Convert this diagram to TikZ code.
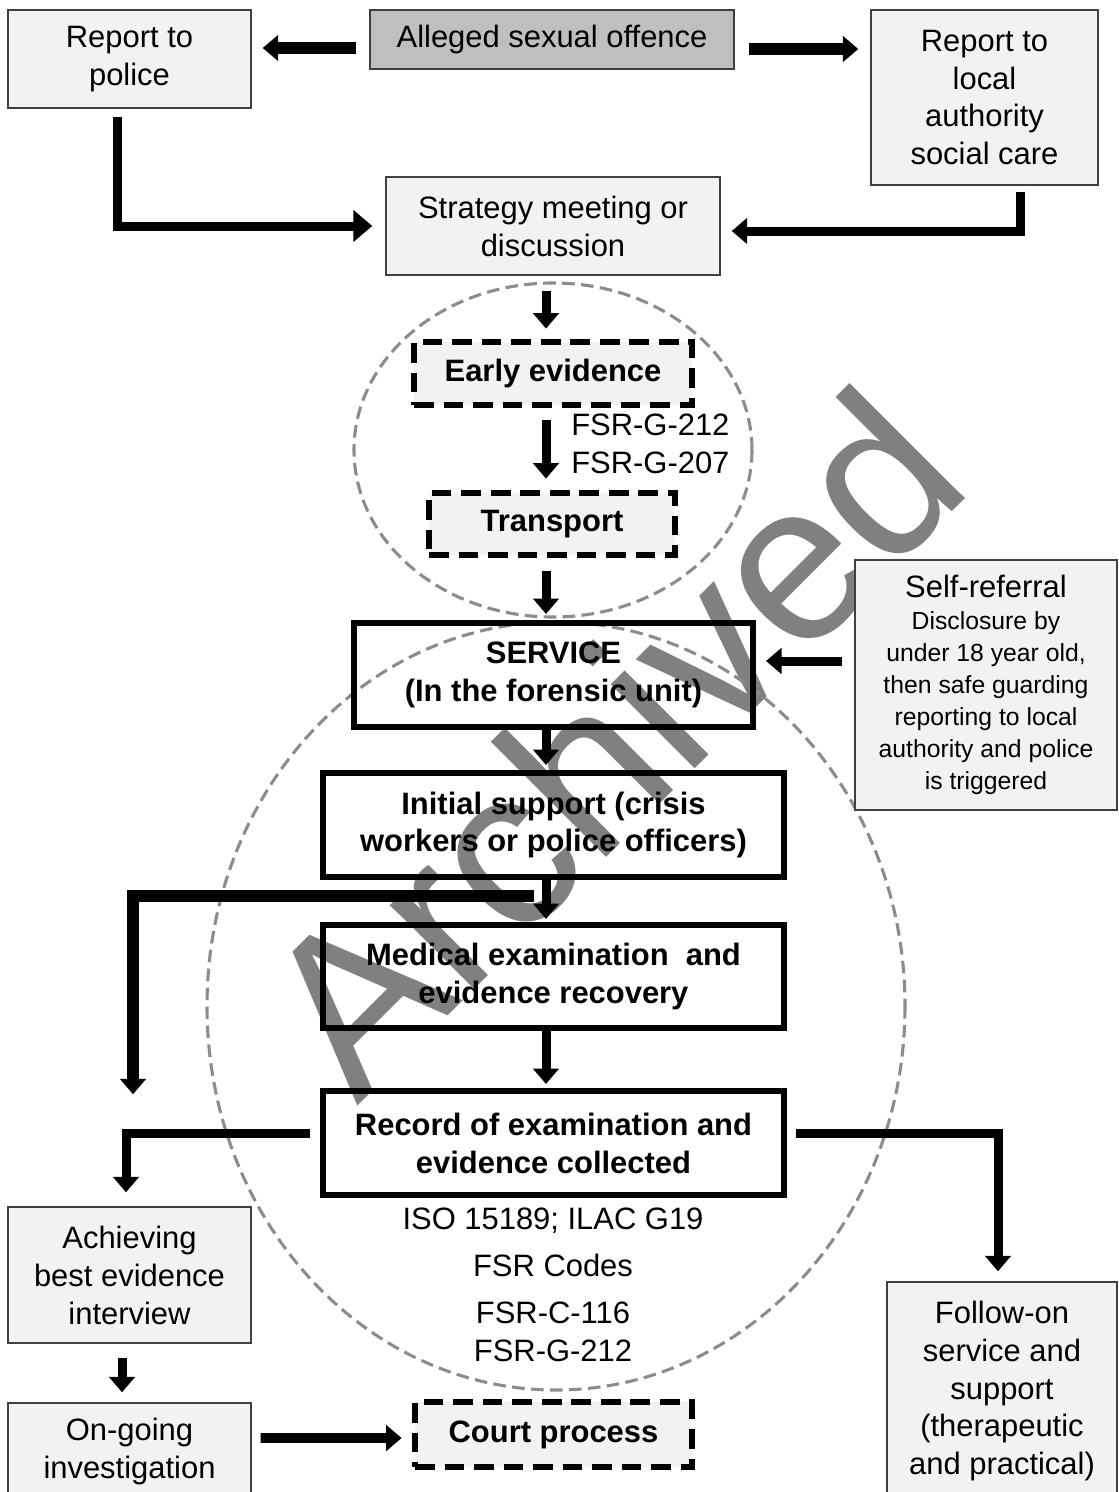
\documentclass[tikz,border=0pt]{standalone}
\usepackage{fontspec}
\setmainfont{Liberation Sans}
\usetikzlibrary{arrows.meta,calc}
\definecolor{boxgray}{HTML}{F2F2F2}
\definecolor{offencegray}{HTML}{BFBFBF}
\definecolor{edgegray}{HTML}{404040}
\definecolor{ringgray}{HTML}{8C8C8C}
\definecolor{markgray}{HTML}{808080}
\newdimen\pxu \pxu=0.025cm
\tikzstyle{greybox}=[draw=edgegray, line width=1pt, fill=boxgray, align=center, inner sep=0pt, font=\fontsize{22}{27}\selectfont]
\tikzstyle{boldbox}=[draw=black, line width=4.3pt, align=center, inner sep=0pt, font=\fontsize{22}{27}\selectfont\bfseries]
\tikzstyle{dashbox}=[boldbox, fill=boxgray, line width=4.8pt, dash pattern=on 14pt off 7pt]
\tikzstyle{plaintext}=[align=center, inner sep=0pt, font=\fontsize{22}{27}\selectfont]
\tikzstyle{flow}=[line width=6.4pt, -{Triangle[width=18pt,length=11pt]}]
\tikzstyle{flowwide}=[line width=6.4pt, -{Triangle[width=22pt,length=13.5pt]}]
\tikzstyle{ring}=[draw=ringgray, line width=2.2pt, dash pattern=on 9pt off 4.5pt]
\tikzstyle{watermark}=[text=markgray, inner sep=0pt, font=\fontsize{160}{160}\selectfont]
\begin{document}
\begin{tikzpicture}[x=0.025cm, y=-0.025cm]
\clip (0,0) rectangle (1118,1492);
% watermark first, boxes over it
\node[watermark, rotate=45, anchor=base west] (wmark) at (357,1107) {Archived};
% dashed rings
\draw[ring] (553,450) ellipse [x radius=199, y radius=167];
\draw[ring] (556,1006) ellipse [x radius=349, y radius=384];
% boxes
\node[greybox, minimum width=243\pxu, minimum height=98\pxu] (police) at (129.5,59) {Report to\\police};
\node[greybox, fill=offencegray, minimum width=364\pxu, minimum height=59\pxu] (offence) at (552,39.5) {Alleged sexual offence};
\node[greybox, minimum width=227\pxu, minimum height=175\pxu] (local) at (984.5,97.5) {Report to\\local\\authority\\social care};
\node[greybox, minimum width=334\pxu, minimum height=98\pxu] (strategy) at (553,226) {Strategy meeting or\\discussion};
\node[dashbox, minimum width=278\pxu, minimum height=63\pxu] (early) at (553,373.5) {Early evidence};
\node[plaintext, anchor=west] (fsrcodes) at (571,444) {FSR-G-212\\FSR-G-207};
\node[dashbox, minimum width=246\pxu, minimum height=62\pxu] (transport) at (552,524) {Transport};
\node[boldbox, minimum width=399\pxu, minimum height=104\pxu] (service) at (553.5,675) {SERVICE\\(In the forensic unit)};
\node[greybox, minimum width=262\pxu, minimum height=250\pxu, font=\fontsize{17.6}{22.8}\selectfont] (selfref) at (986,685) {{\fontsize{22}{27}\selectfont Self-referral}\\Disclosure by\\under 18 year old,\\then safe guarding\\reporting to local\\authority and police\\is triggered};
\node[boldbox, minimum width=461\pxu, minimum height=104\pxu] (initial) at (553.5,825) {Initial support (crisis\\workers or police officers)};
\node[boldbox, minimum width=461\pxu, minimum height=103\pxu] (medical) at (553.5,976.5) {Medical examination\ \ and\\evidence recovery};
\node[boldbox, minimum width=461\pxu, minimum height=104\pxu] (record) at (553.5,1143) {Record of examination and\\evidence collected};
\node[plaintext] (codes) at (553,1285) {ISO 15189; ILAC G19\\[6.4pt]FSR Codes\\[6.4pt]FSR-C-116\\FSR-G-212};
\node[greybox, minimum width=243\pxu, minimum height=136\pxu] (abe) at (129.5,1275) {Achieving\\best evidence\\interview};
\node[greybox, minimum width=243\pxu, minimum height=97\pxu] (ongoing) at (129.5,1451.5) {On-going\\investigation};
\node[dashbox, minimum width=277\pxu, minimum height=65\pxu] (court) at (553.5,1434.5) {Court process};
\node[greybox, minimum width=230\pxu, minimum height=218\pxu] (followon) at (1002,1391) {Follow-on\\service and\\support\\(therapeutic\\and practical)};
\coordinate (joinL) at ($(abe.north)+(3.5,-112)$);
% connectors
\draw[flow, line width=8pt, shorten <=13\pxu, shorten >=11\pxu] ($(offence.west)+(0,8.5)$) -- ($(police.east |- offence.west)+(0,8.5)$);
\draw[flow, line width=8pt, shorten <=14\pxu, shorten >=12\pxu] ($(offence.east)+(0,9.5)$) -- ($(local.west |- offence.east)+(0,9.5)$);
\draw[flowwide, shorten <=8\pxu, shorten >=13\pxu] ($(police.south)+(-12.5,0)$) |- (strategy.west);
\draw[flow, shorten <=6\pxu, shorten >=11\pxu] ($(local.south)+(35.5,0)$) |- ($(strategy.east)+(0,5)$);
\draw[flow, shorten <=15\pxu, shorten >=10\pxu] ($(strategy.south)+(-7,0)$) -- ($(early.north)+(-7,0)$);
\draw[flow, shorten <=12\pxu, shorten >=11\pxu] ($(early.south)+(-7,0)$) -- ($(transport.north)+(-6,0)$);
\draw[flow, shorten <=13\pxu, shorten >=6\pxu] ($(transport.south)+(-6,0)$) -- ($(service.north)+(-7.5,0)$);
\draw[flow, shorten <=12\pxu, shorten >=10\pxu] ($(selfref.west)+(0,-24)$) -- ($(service.east)+(0,-14)$);
\draw[flow, shorten >=5\pxu] ($(service.south)+(-7.5,0)$) -- ($(initial.north)+(-7.5,0)$);
\draw[flow, shorten >=3\pxu] ($(initial.south)+(-7.5,0)$) -- ($(medical.north)+(-7.5,0)$);
\draw[flow, line width=8.5pt] ($(initial.south)+(-19.5,16)$) -| (joinL);
\draw[flow, shorten >=4\pxu] ($(medical.south)+(-7.5,0)$) -- ($(record.north)+(-7.5,0)$);
\draw[flow, shorten >=14\pxu] ($(record.west)+(-10,-10)$) -| ($(abe.north)+(-3.5,0)$);
\draw[flow, shorten >=10\pxu] ($(record.east)+(9,-10)$) -| ($(followon.north)+(-4,0)$);
\draw[flow, shorten <=14\pxu, shorten >=10\pxu] ($(abe.south)+(-7.5,0)$) -- ($(ongoing.north)+(-7.5,0)$);
\draw[flow, line width=7pt, shorten <=9\pxu, shorten >=10\pxu] ($(ongoing.east)+(0,-13.5)$) -- ($(court.west)+(0,3.5)$);
\end{tikzpicture}
\end{document}
